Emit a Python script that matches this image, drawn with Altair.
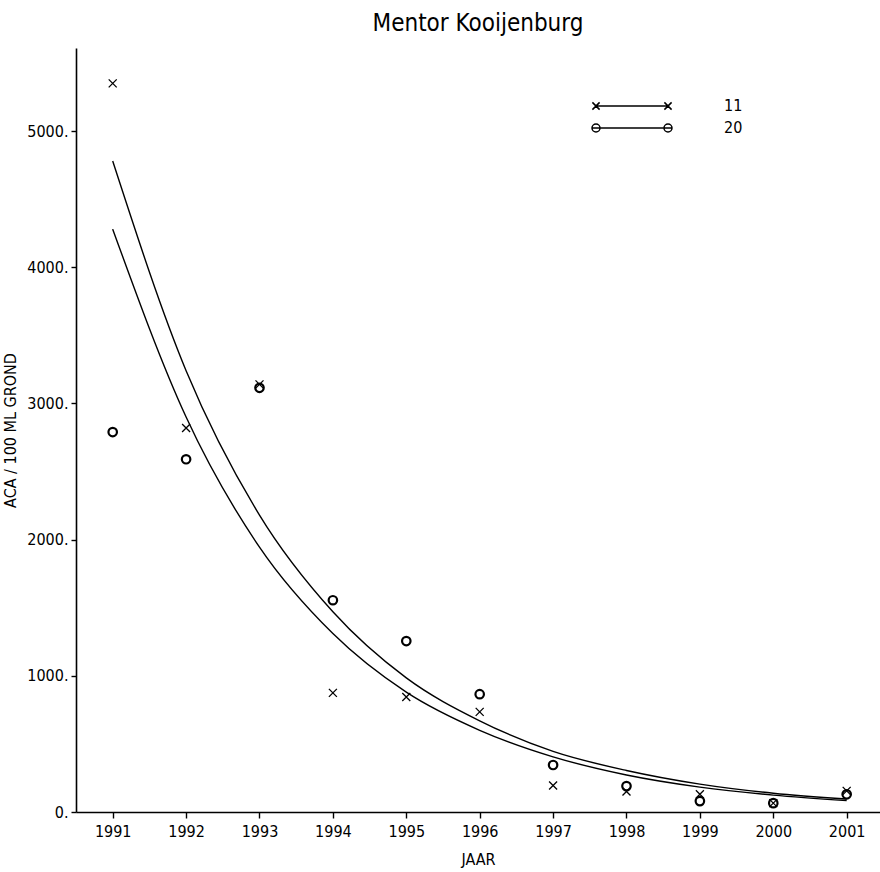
import altair as alt
import pandas as pd

# ---- data ----
years = list(range(1991, 2002))
series = ["11", "20"]
obs_11 = [5350, 2820, 3140, 875, 845, 735, 195, 150, 130, 65, 155]
obs_20 = [2790, 2590, 3115, 1555, 1255, 865, 345, 190, 80, 65, 130]
fit_11 = [4780, 3240, 2180, 1470, 985, 670, 445, 305, 205, 138, 95]
fit_20 = [4280, 2900, 1945, 1310, 880, 600, 405, 272, 183, 124, 84]
y_ticks = [0, 1000, 2000, 3000, 4000, 5000]

obs = pd.DataFrame({
    "year": years * 2,
    "value": obs_11 + obs_20,
    "series": ["11"] * len(years) + ["20"] * len(years),
})
fit = pd.DataFrame({
    "year": years * 2,
    "value": fit_11 + fit_20,
    "series": ["11"] * len(years) + ["20"] * len(years),
})

FONT = "DejaVu Sans Condensed, Liberation Sans Narrow, sans-serif"

CROSS = "M-1,-1L1,1M-1,1L1,-1"
LEG_CROSS = ("M-9,0L9,0"
             "M-9.9,-0.9L-8.1,0.9M-9.9,0.9L-8.1,-0.9"
             "M8.1,-0.9L9.9,0.9M8.1,0.9L9.9,-0.9")
LEG_CIRCLE = ("M-10,0L10,0"
              "M-8,0A1,1,0,1,1,-10,0A1,1,0,1,1,-8,0"
              "M10,0A1,1,0,1,1,8,0A1,1,0,1,1,10,0")

x_enc = alt.X("year:Q",
              scale=alt.Scale(domain=[1990.5, 2001.454], nice=False, zero=False),
              axis=alt.Axis(values=years, format="d", title="JAAR",
                            tickSize=6, labelPadding=5, titlePadding=12))
y_enc = alt.Y("value:Q",
              scale=alt.Scale(domain=[0, 5610], nice=False),
              axis=alt.Axis(values=y_ticks, labelExpr="datum.value + '.'",
                            title="ACA / 100 ML GROND",
                            tickSize=5, labelPadding=3, titlePadding=8))

lines = alt.Chart(fit).mark_line(color="black", strokeWidth=1.4,
                                 interpolate="monotone").encode(
    x=x_enc, y=y_enc, detail="series:N")

points = alt.Chart(obs).mark_point(filled=False, color="black", opacity=1).encode(
    x=x_enc, y=y_enc,
    shape=alt.Shape("series:N",
                    scale=alt.Scale(domain=series, range=[CROSS, "circle"]),
                    legend=None),
    size=alt.Size("series:N",
                  scale=alt.Scale(domain=series, range=[64, 72]),
                  legend=None),
    strokeWidth=alt.StrokeWidth("series:N",
                                scale=alt.Scale(domain=series, range=[1.3, 2.2]),
                                legend=None))

legend_layer = alt.Chart(obs).transform_filter("datum.value < 0").mark_point(
    filled=False, color="black", opacity=1, strokeWidth=1.5).encode(
    x=x_enc, y=y_enc,
    shape=alt.Shape("series:N",
                    scale=alt.Scale(domain=series, range=[LEG_CROSS, LEG_CIRCLE]),
                    legend=alt.Legend(title=None, orient="none",
                                      legendX=548, legendY=50,
                                      symbolSize=64, symbolStrokeWidth=1.5,
                                      symbolStrokeColor="black",
                                      labelOffset=84, labelFontSize=16,
                                      labelFont=FONT, padding=0,
                                      rowPadding=6)))

chart = alt.layer(lines, points, legend_layer).resolve_scale(
    shape="independent", size="independent", strokeWidth="independent"
).properties(
    width=804, height=764,
    padding={"left": 76, "top": 48, "right": 0, "bottom": 60},
    autosize=alt.AutoSizeParams(type="none"),
    title=alt.Title("Mentor Kooijenburg", fontSize=24, fontWeight="normal",
                    font=FONT, offset=12, anchor="middle", color="black"),
    background="white",
).configure_view(stroke=None).configure_axis(
    domainColor="black", domainWidth=1.6, tickColor="black", tickWidth=1.4,
    labelFont=FONT, labelFontSize=16, labelColor="black",
    titleFont=FONT, titleFontSize=16, titleFontWeight="normal", titleColor="black",
    grid=False,
)

chart.save("out.html", embed_options={"renderer": "svg", "actions": False})
